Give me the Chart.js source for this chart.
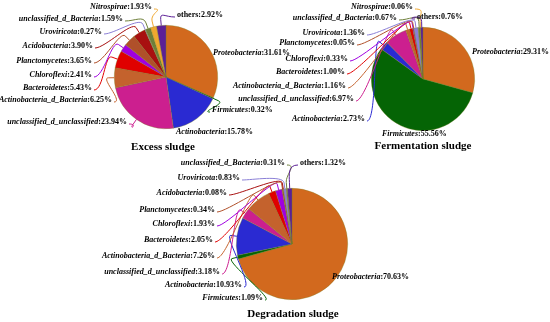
<!DOCTYPE html>
<html>
<head>
<meta charset="utf-8">
<script src="https://cdn.jsdelivr.net/npm/chart.js@4.4.0/dist/chart.umd.min.js"></script>
<style>
  html, body { margin: 0; padding: 0; background: #ffffff; }
  #wrap { position: relative; width: 550px; height: 322px; }
  #wrap canvas { position: absolute; left: 0; top: 0; }
</style>
</head>
<body>
<div id="wrap">
  <canvas id="excessChart" width="550" height="322"></canvas>
  <canvas id="fermentChart" width="550" height="322"></canvas>
  <canvas id="degradChart" width="550" height="322"></canvas>
</div>
<script>
// Relative abundance (%), in drawing order (clockwise from 12 o'clock)
const excessCategories = ['Proteobacteria', 'Firmicutes', 'Actinobacteria', 'unclassified_d_unclassified',
  'Actinobacteria_d_Bacteria', 'Bacteroidetes', 'Chloroflexi', 'Planctomycetes', 'Acidobacteria',
  'Uroviricota', 'unclassified_d_Bacteria', 'Nitrospirae', 'others'];
const excessValues = [31.61, 0.32, 15.78, 23.94, 6.25, 5.43, 2.41, 3.65, 3.90, 0.27, 1.59, 1.93, 2.92];

const fermentCategories = ['Proteobacteria', 'Firmicutes', 'Actinobacteria', 'unclassified_d_unclassified',
  'Actinobacteria_d_Bacteria', 'Bacteroidetes', 'Chloroflexi', 'Planctomycetes',
  'Uroviricota', 'unclassified_d_Bacteria', 'Nitrospirae', 'others'];
const fermentValues = [29.31, 55.56, 2.73, 6.97, 1.16, 1.00, 0.33, 0.05, 1.36, 0.67, 0.06, 0.76];

const degradCategories = ['Proteobacteria', 'Firmicutes', 'Actinobacteria', 'unclassified_d_unclassified',
  'Actinobacteria_d_Bacteria', 'Bacteroidetes', 'Chloroflexi', 'Planctomycetes', 'Acidobacteria',
  'Uroviricota', 'unclassified_d_Bacteria', 'others'];
const degradValues = [70.63, 1.09, 10.93, 3.18, 7.26, 2.05, 1.93, 0.34, 0.08, 0.83, 0.31, 1.32];

const taxonColors = {
  'Proteobacteria': '#d2691e',
  'Firmicutes': '#056405',
  'Actinobacteria': '#2a2ad2',
  'unclassified_d_unclassified': '#cc1f8f',
  'Actinobacteria_d_Bacteria': '#c4622d',
  'Bacteroidetes': '#e00000',
  'Chloroflexi': '#a000e0',
  'Planctomycetes': '#b0502a',
  'Acidobacteria': '#a81010',
  'Uroviricota': '#8a7fd6',
  'unclassified_d_Bacteria': '#6e7f3a',
  'Nitrospirae': '#f0a830',
  'others': '#5c1f96'
};

// label anchors: [x, y, side, leader]; 'L' = text ends at x, 'R' = text starts at x
const excessLabelPos = [[213, 53, 'R', false], [212, 110, 'R', true], [176, 132, 'R', false], [127, 122, 'L', true],
  [112, 100, 'L', true], [92, 88, 'L', true], [92, 75, 'L', true], [92, 61, 'L', true], [93, 46, 'L', true],
  [102, 32, 'L', true], [123, 19, 'L', true], [152, 7, 'L', true], [177, 15, 'R', true]];
const fermentLabelPos = [[472, 52, 'R', false], [382, 134, 'R', false], [365, 119, 'L', true], [354, 99, 'L', true],
  [346, 86, 'L', true], [345, 72, 'L', true], [348, 59, 'L', true], [355, 43, 'L', true],
  [365, 33, 'L', true], [397, 18, 'L', true], [413, 7, 'L', true], [417, 17, 'R', true]];
const degradLabelPos = [[332, 277, 'R', false], [263, 298, 'L', true], [242, 285, 'L', true], [220, 272, 'L', true],
  [215, 256, 'L', true], [213, 240, 'L', true], [215, 224, 'L', true], [215, 210, 'L', true], [227, 193, 'L', true],
  [240, 178, 'L', true], [285, 163, 'L', true], [300, 163, 'R', true]];

const W = 550, H = 322;
const labelFont = '"Liberation Serif", "Times New Roman", serif';

const leaderLabels = {
  id: 'leaderLabels',
  afterDraw(chart, args, opts) {
    const ctx = chart.ctx;
    const meta = chart.getDatasetMeta(0);
    const labels = chart.data.labels;
    const values = chart.data.datasets[0].data;
    ctx.save();
    meta.data.forEach((arc, i) => {
      const pos = opts.positions[i];
      if (!pos) return;
      const mid = (arc.startAngle + arc.endAngle) / 2;
      const dx = Math.cos(mid), dy = Math.sin(mid);
      const r = arc.outerRadius;

      if (pos[3]) {
        const x0 = arc.x + dx * r, y0 = arc.y + dy * r;
        const x1 = arc.x + dx * (r + 6), y1 = arc.y + dy * (r + 6);
        const ex = pos[2] === 'L' ? pos[0] + 2 : pos[0] - 2;
        const ey = pos[1] + 2;
        ctx.strokeStyle = taxonColors[labels[i]];
        ctx.lineWidth = 1;
        ctx.beginPath();
        ctx.moveTo(x0, y0);
        ctx.lineTo(x1, y1);
        const cx1 = arc.x + dx * (r + 14), cy1 = arc.y + dy * (r + 14);
        const cx2 = pos[2] === 'L' ? ex + 10 : ex - 10;
        ctx.bezierCurveTo(cx1, cy1, cx2, ey, ex, ey);
        ctx.stroke();
      }

      // name (italic) + value (upright)
      const name = labels[i];
      const valText = ':' + values[i].toFixed(2) + '%';
      const nameFont = (name === 'others' ? 'bold ' : 'italic bold ') + '8px ' + labelFont;
      const valFont = 'bold 8px ' + labelFont;
      ctx.font = nameFont;
      const nw = ctx.measureText(name).width;
      ctx.font = valFont;
      const vw = ctx.measureText(valText).width;
      const tx = pos[2] === 'L' ? pos[0] - nw - vw : pos[0];
      ctx.fillStyle = '#000000';
      ctx.textBaseline = 'middle';
      ctx.textAlign = 'left';
      ctx.font = nameFont;
      ctx.fillText(name, tx, pos[1]);
      ctx.font = valFont;
      ctx.fillText(valText, tx + nw, pos[1]);
    });

    ctx.font = 'bold 11px ' + labelFont;
    ctx.textAlign = 'center';
    ctx.textBaseline = 'middle';
    ctx.fillStyle = '#000000';
    ctx.fillText(opts.title, opts.titleX, opts.titleY);
    ctx.restore();
  }
};

function renderPie(canvasId, categories, values, positions, title, cx, cy, r, titleX, titleY) {
  const canvas = document.getElementById(canvasId);
  const ctx = canvas.getContext('2d');
  return new Chart(ctx, {
    type: 'pie',
    data: {
      labels: categories,
      datasets: [{
        data: values,
        backgroundColor: categories.map(c => taxonColors[c]),
        borderColor: 'rgba(120,130,30,0.55)',
        borderWidth: 0.6
      }]
    },
    options: {
      responsive: false,
      animation: false,
      devicePixelRatio: 1,
      layout: {
        padding: { left: cx - r, top: cy - r, right: W - cx - r, bottom: H - cy - r }
      },
      plugins: {
        legend: { display: false },
        tooltip: { enabled: false },
        leaderLabels: { positions: positions, title: title, titleX: titleX, titleY: titleY }
      }
    },
    plugins: [leaderLabels]
  });
}

renderPie('excessChart', excessCategories, excessValues, excessLabelPos, 'Excess sludge', 166, 77, 52, 163, 147);
renderPie('fermentChart', fermentCategories, fermentValues, fermentLabelPos, 'Fermentation sludge', 423, 79, 52, 423, 146);
renderPie('degradChart', degradCategories, degradValues, degradLabelPos, 'Degradation sludge', 292, 244, 56, 293, 314);
</script>
</body>
</html>
